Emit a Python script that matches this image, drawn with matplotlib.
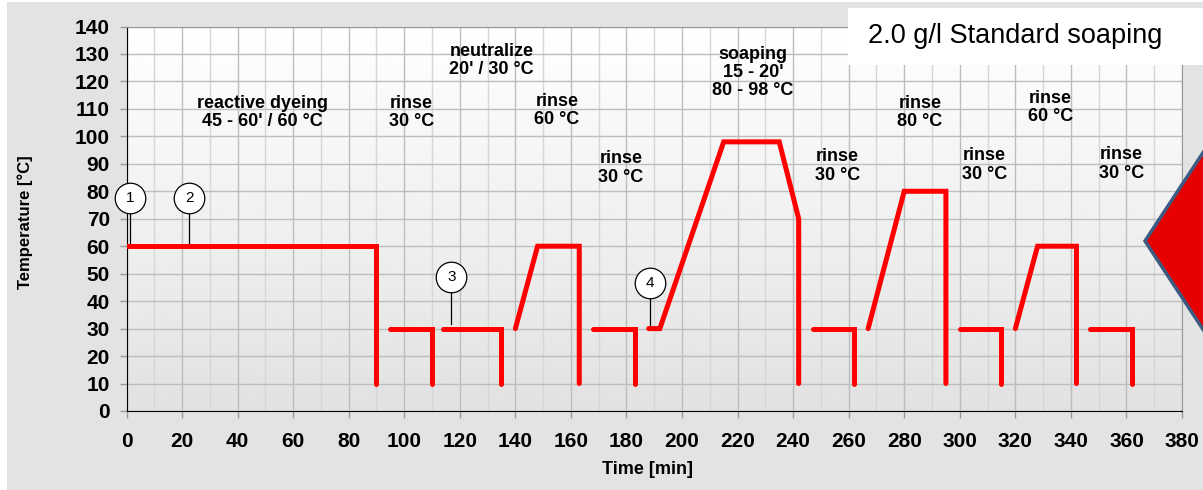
import matplotlib
matplotlib.use("Agg")
import matplotlib.pyplot as plt
import numpy as np
from matplotlib.patches import Polygon, Rectangle

plt.rcParams['font.family'] = ['Liberation Sans', 'DejaVu Sans']

# temperature profile, one list per step (time [min], temperature [°C])
steps_t = [
    [0, 90, 90],
    [95, 110, 110],
    [114, 135, 135],
    [140, 148, 163, 163],
    [168, 183, 183],
    [188, 192, 215, 235, 242, 242],
    [247, 262, 262],
    [267, 280, 295, 295],
    [300, 315, 315],
    [320, 328, 342, 342],
    [347, 362, 362],
]
steps_T = [
    [60, 60, 10],
    [30, 30, 10],
    [30, 30, 10],
    [30, 60, 60, 10],
    [30, 30, 10],
    [30, 30, 98, 98, 70, 10],
    [30, 30, 10],
    [30, 80, 80, 10],
    [30, 30, 10],
    [30, 60, 60, 10],
    [30, 30, 10],
]

labels = ["reactive dyeing\n45 - 60' / 60 °C", "rinse\n30 °C", "neutralize\n20' / 30 °C",
          "rinse\n60 °C", "rinse\n30 °C", "soaping\n15 - 20'\n80 - 98 °C", "rinse\n30 °C",
          "rinse\n80 °C", "rinse\n30 °C", "rinse\n60 °C", "rinse\n30 °C"]
label_x = [49, 102.5, 131.5, 155, 178, 225.6, 256, 285.6, 308.8, 332.7, 358.2]
label_y = [108.7, 108.7, 127.6, 109.5, 88.5, 123.2, 89.2, 108.8, 89.6, 110.5, 89.9]

# numbered markers: position of circle and where the leader line ends
marker_no = ["1", "2", "3", "4"]
marker_x = [1.3, 22.6, 117, 188.5]
marker_y = [77.5, 77.5, 48.7, 46.7]
marker_end = [60, 60, 31.5, 30]

fig = plt.figure(figsize=(12.03, 4.90), dpi=100)
fig.patch.set_facecolor('white')
fig.patches.append(Rectangle((7 / 1203, 0), 1, 1 - 2 / 490, transform=fig.transFigure,
                             facecolor='#e3e3e3', edgecolor='none', zorder=-10))

ax = fig.add_axes([126.5 / 1203, 1 - 411 / 490, (1182 - 126.5) / 1203, (411 - 26.5) / 490])
ax.set_xlim(0, 380)
ax.set_ylim(0, 140)

# gradient background of the plot area
grad = np.linspace(0.885, 1.0, 256).reshape(-1, 1)
ax.imshow(grad, cmap='gray', vmin=0, vmax=1, origin='lower', aspect='auto',
          extent=[0, 380, 0, 140], zorder=0)

ax.set_xticks(np.arange(0, 381, 20))
ax.set_yticks(np.arange(0, 141, 10))
ax.set_xticks(np.arange(0, 381, 10), minor=True)
ax.grid(True, which='major', color='#bdbdbd', linewidth=1, zorder=1)
ax.grid(True, which='minor', axis='x', color='#d6d6d6', linewidth=1, zorder=1)
ax.tick_params(which='minor', length=0)
ax.tick_params(which='major', direction='out', length=5, color='#999999', width=1,
               labelsize=15, pad=7)
ax.tick_params(axis='x', pad=10)
for lab in ax.get_xticklabels() + ax.get_yticklabels():
    lab.set_fontweight('bold')

ax.spines['left'].set_color('black')
ax.spines['bottom'].set_color('black')
ax.spines['top'].set_color('#999999')
ax.spines['right'].set_color('#999999')

for t, T in zip(steps_t, steps_T):
    ax.plot(t, T, color='#ff0000', linewidth=3.6, solid_capstyle='round',
            solid_joinstyle='miter', zorder=4)

for txt, x, y in zip(labels, label_x, label_y):
    ax.text(x, y, txt, ha='center', va='center', fontsize=13, fontweight='bold',
            linespacing=1.1, zorder=5)

for n, x, y, e in zip(marker_no, marker_x, marker_y, marker_end):
    ax.plot([x, x], [e, y], color='black', linewidth=0.9, zorder=3)
    ax.plot(x, y, marker='o', markersize=22, markerfacecolor='white',
            markeredgecolor='black', markeredgewidth=0.9, zorder=5, clip_on=False)
    ax.text(x, y, n, ha='center', va='center', fontsize=11, zorder=6)

ax.set_ylabel('Temperature [°C]', fontsize=12, fontweight='bold')
ax.yaxis.label.set_va('center')
ax.yaxis.set_label_coords(-101 / 1055.5, 0.49)
ax.set_xlabel('Time [min]', fontsize=13, fontweight='bold')
ax.xaxis.set_label_coords((647 - 126.5) / 1055.5, -(470 - 411) / 384.5)
ax.xaxis.label.set_va('center')

# title box at top right
fig.patches.append(Rectangle((848 / 1203, 1 - 65 / 490), 1, 57 / 490, transform=fig.transFigure,
                             facecolor='white', edgecolor='none', zorder=10))
fig.text(868 / 1203, 1 - 36 / 490, '2.0 g/l Standard soaping', fontsize=19.5,
         ha='left', va='center', zorder=11)

# red arrow shape on the right edge
fig.patches.append(Polygon([(1145 / 1203, 1 - 241 / 490), (1210 / 1203, 1 - 142 / 490),
                            (1210 / 1203, 1 - 340 / 490)], closed=True,
                           transform=fig.transFigure, facecolor='#e60000',
                           edgecolor='#3d5a82', linewidth=2.5, zorder=10))

fig.savefig('out.png', dpi=100, facecolor=fig.get_facecolor())
